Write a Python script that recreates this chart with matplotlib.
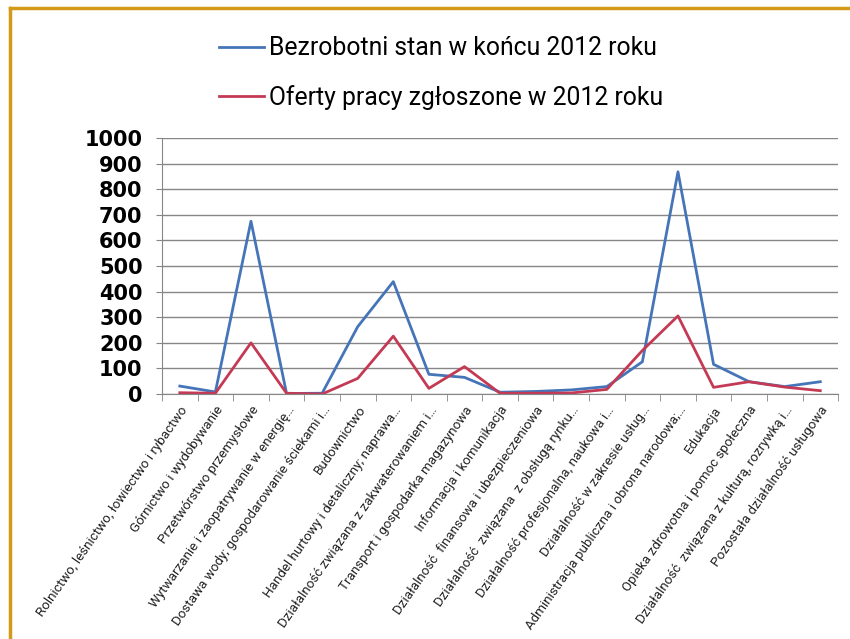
import matplotlib.pyplot as plt
from matplotlib.lines import Line2D

categories = [
    'Rolnictwo, leśnictwo, łowiectwo i rybactwo',
    'Górnictwo i wydobywanie',
    'Przetwórstwo przemysłowe',
    'Wytwarzanie i zaopatrywanie w energię…',
    'Dostawa wody; gospodarowanie ściekami i…',
    'Budownictwo',
    'Handel hurtowy i detaliczny; naprawa…',
    'Działalność związana z zakwaterowaniem i…',
    'Transport i gospodarka magazynowa',
    'Informacja i komunikacja',
    'Działalność  finansowa i ubezpieczeniowa',
    'Działalność  związana  z obsługą rynku…',
    'Działalność profesjonalna, naukowa i…',
    'Działalność w zakresie usług…',
    'Administracja publiczna i obrona narodowa;…',
    'Edukacja',
    'Opieka zdrowotna i pomoc społeczna',
    'Działalność  związana z kulturą, rozrywką i…',
    'Pozostała działalność usługowa',
]
bezrobotni = [31, 8, 675, 2, 3, 263, 439, 77, 65, 7, 10, 16, 29, 126, 868, 116, 48, 29, 48]
oferty = [5, 3, 200, 3, 0, 61, 226, 22, 107, 3, 3, 4, 18, 170, 305, 26, 48, 27, 13]
yticks = list(range(0, 1001, 100))

plt.rcParams['font.family'] = ['Roboto', 'DejaVu Sans']

fig = plt.figure(figsize=(8.5, 6.39), dpi=100)
ax = fig.add_axes([0.1906, 0.3834, 0.7954, 0.4006])

x = list(range(len(categories)))
l1, = ax.plot(x, bezrobotni, color='#4575B8', linewidth=2, label='Bezrobotni stan w końcu 2012 roku')
l2, = ax.plot(x, oferty, color='#C43A55', linewidth=2, label='Oferty pracy zgłoszone w 2012 roku')

ax.set_xlim(-0.5, len(categories) - 0.5)
ax.set_ylim(0, 1000)
ax.set_yticks(yticks)
ax.set_yticklabels([str(v) for v in yticks], fontsize=15, fontweight='bold', family='DejaVu Sans')
ax.yaxis.grid(True, color='#868686', linewidth=1)
ax.set_axisbelow(True)

ax.set_xticks(x)
ax.set_xticklabels(categories, rotation=55, ha='right', rotation_mode='anchor', fontsize=9.6, color='#222222')
ax.set_xticks([i - 0.5 for i in range(len(categories) + 1)], minor=True)
ax.tick_params(axis='x', which='major', length=0, pad=7)
ax.tick_params(axis='x', which='minor', length=5, color='#868686')
ax.tick_params(axis='y', length=4, color='#868686', pad=10)

for s in ['top', 'right']:
    ax.spines[s].set_visible(False)
for s in ['left', 'bottom']:
    ax.spines[s].set_color('#868686')

fig.legend(handles=[l1, l2], loc='upper left', bbox_to_anchor=(197 / 850, 1 - 14 / 639),
           frameon=False, fontsize=17.8, handlelength=1.8, handletextpad=0.2, labelspacing=1.0)

# frame of the chart
gold = '#D49A1A'
fig.add_artist(Line2D([10 / 850, 10 / 850], [0, 1 - 8 / 639], color=gold, linewidth=2.5))
fig.add_artist(Line2D([10 / 850, 1], [1 - 8 / 639, 1 - 8 / 639], color=gold, linewidth=2.5))

fig.savefig('out.png', dpi=100)
